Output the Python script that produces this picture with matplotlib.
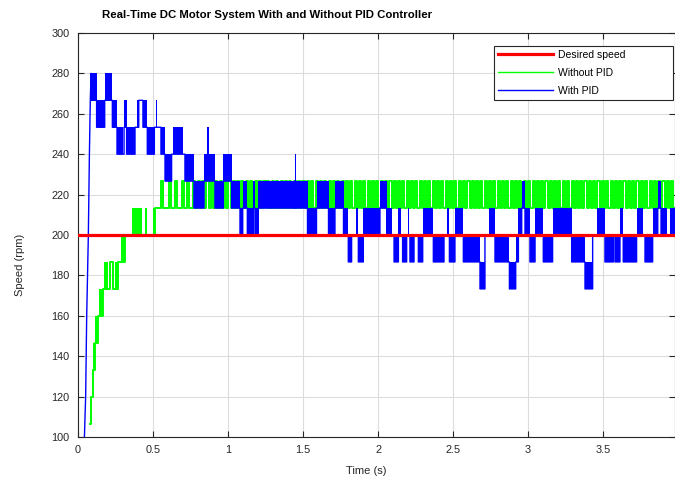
import matplotlib
matplotlib.use("Agg")
import matplotlib.pyplot as plt

# ========================
# DATA
# ========================

desired_speed = 200.0
t_end = 3.98

# blue (with PID): initial rise
blue_ramp_t = [0.040, 0.051, 0.058, 0.069, 0.076, 0.082, 0.087]
blue_ramp_v = [93.33, 120.0, 160.0, 200.0, 240.0, 266.67, 280.0]

# blue: segments (start time, low level, high level); low != high means fast chattering
blue_t = [0.087, 0.124, 0.178, 0.229, 0.260, 0.297, 0.307, 0.324, 0.380, 0.391,
          0.405, 0.433, 0.462, 0.509, 0.522, 0.527, 0.553, 0.580, 0.624, 0.636,
          0.702, 0.713, 0.773, 0.840, 0.862, 0.870, 0.913, 0.969, 1.024, 1.080,
          1.098, 1.129, 1.169, 1.180, 1.202, 1.445, 1.450, 1.530, 1.590, 1.670,
          1.713, 1.770, 1.802, 1.824, 1.853, 1.869, 1.902, 2.013, 2.058, 2.091,
          2.107, 2.136, 2.150, 2.164, 2.191, 2.200, 2.205, 2.213, 2.240, 2.269,
          2.298, 2.369, 2.440, 2.458, 2.476, 2.513, 2.569, 2.680, 2.713, 2.742,
          2.780, 2.876, 2.918, 2.936, 2.958, 2.980, 3.013, 3.047, 3.102, 3.164,
          3.291, 3.380, 3.431, 3.458, 3.513, 3.569, 3.580, 3.613, 3.635, 3.724,
          3.769, 3.780, 3.831, 3.865, 3.887, 3.924, 3.947]
blue_lo = [266.67, 253.33, 266.67, 253.33, 240.00, 240.00, 253.33, 240.00, 253.33, 253.33,
           266.67, 253.33, 240.00, 253.33, 253.33, 253.33, 240.00, 226.67, 240.00, 240.00,
           240.00, 226.67, 213.33, 226.67, 240.00, 226.67, 213.33, 226.67, 213.33, 200.00,
           213.33, 200.00, 213.33, 200.00, 213.33, 226.67, 213.33, 200.00, 213.33, 200.00,
           213.33, 200.00, 186.67, 200.00, 200.00, 186.67, 200.00, 213.33, 200.00, 200.00,
           186.67, 200.00, 200.00, 186.67, 200.00, 200.00, 200.00, 186.67, 200.00, 186.67,
           200.00, 186.67, 200.00, 200.00, 186.67, 200.00, 186.67, 173.33, 200.00, 200.00,
           186.67, 173.33, 186.67, 200.00, 213.33, 200.00, 186.67, 200.00, 186.67, 200.00,
           186.67, 173.33, 200.00, 200.00, 186.67, 200.00, 186.67, 200.00, 186.67, 200.00,
           200.00, 186.67, 200.00, 213.33, 200.00, 200.00, 200.00]
blue_hi = [280.00, 266.67, 280.00, 266.67, 253.33, 240.00, 266.67, 253.33, 253.33, 266.67,
           266.67, 266.67, 253.33, 253.33, 266.67, 253.33, 253.33, 240.00, 240.00, 253.33,
           240.00, 240.00, 226.67, 240.00, 253.33, 240.00, 226.67, 240.00, 226.67, 213.33,
           226.67, 213.33, 226.67, 213.33, 226.67, 240.00, 226.67, 213.33, 226.67, 213.33,
           226.67, 213.33, 200.00, 200.00, 213.33, 200.00, 213.33, 226.67, 213.33, 200.00,
           200.00, 213.33, 200.00, 200.00, 200.00, 213.33, 200.00, 200.00, 200.00, 200.00,
           213.33, 200.00, 200.00, 213.33, 200.00, 213.33, 200.00, 186.67, 200.00, 213.33,
           200.00, 186.67, 200.00, 213.33, 226.67, 213.33, 200.00, 213.33, 200.00, 213.33,
           200.00, 186.67, 200.00, 213.33, 200.00, 200.00, 200.00, 213.33, 200.00, 213.33,
           200.00, 200.00, 213.33, 226.67, 213.33, 200.00, 213.33]

# green (without PID): staircase rise, same segment format
green_t = [0.080, 0.089, 0.091, 0.100, 0.111, 0.133, 0.142, 0.169, 0.173, 0.202,
           0.213, 0.231, 0.247, 0.269, 0.287, 0.313, 0.358, 0.424, 0.447, 0.458,
           0.498, 0.513]
green_lo = [106.67, 120.00, 120.00, 133.33, 146.67, 160.00, 160.00, 173.33, 173.33, 173.33,
            186.67, 173.33, 173.33, 186.67, 186.67, 200.00, 200.00, 200.00, 200.00, 200.00,
            200.00, 213.33]
green_hi = [106.67, 120.00, 133.33, 146.67, 160.00, 160.00, 173.33, 173.33, 186.67, 173.33,
            186.67, 173.33, 186.67, 186.67, 200.00, 200.00, 213.33, 200.00, 213.33, 200.00,
            213.33, 213.33]

# green: pulses between 213.33 and 226.67 after it settles
green_base = 213.33
green_top = 226.67
green_pulse_w = 0.014
green_up = [0.553, 0.609, 0.647, 0.691, 0.724, 0.769, 0.800, 0.829, 0.856, 0.887,
            0.914, 0.945, 0.972, 1.003, 1.031, 1.060, 1.088, 1.120, 1.148, 1.177,
            1.206, 1.236, 1.262, 1.293, 1.321, 1.351, 1.380, 1.409, 1.437, 1.468,
            1.496, 1.526, 1.553, 1.584, 1.612, 1.641, 1.671, 1.699, 1.728, 1.757,
            1.786, 1.815, 1.844, 1.873, 1.901, 1.931, 1.960, 1.988, 2.018, 2.046,
            2.076, 2.104, 2.134, 2.162, 2.191, 2.220, 2.249, 2.278, 2.306, 2.336,
            2.364, 2.394, 2.422, 2.452, 2.480, 2.509, 2.538, 2.567, 2.596, 2.624,
            2.654, 2.682, 2.712, 2.740, 2.769, 2.798, 2.827, 2.856, 2.884, 2.914,
            2.942, 2.972, 3.000, 3.030, 3.058, 3.087, 3.116, 3.145, 3.174, 3.202,
            3.232, 3.260, 3.290, 3.318, 3.348, 3.376, 3.405, 3.434, 3.463, 3.492,
            3.520, 3.550, 3.578, 3.608, 3.636, 3.665, 3.694, 3.723, 3.752, 3.780,
            3.810, 3.838, 3.868, 3.896, 3.925, 3.954]

x_ticks = [0, 0.5, 1, 1.5, 2, 2.5, 3, 3.5]
x_tick_labels = ["0", "0.5", "1", "1.5", "2", "2.5", "3", "3.5"]
y_ticks = [100, 120, 140, 160, 180, 200, 220, 240, 260, 280, 300]


# ========================
# HELPERS
# ========================

def segment_path(starts, lows, end):
    xs, ys = [], []
    for i, t0 in enumerate(starts):
        t1 = starts[i + 1] if i + 1 < len(starts) else end
        xs += [t0, t1]
        ys += [lows[i], lows[i]]
    return xs, ys


def fill_blocks(ax, starts, lows, highs, end, color, z):
    for i, t0 in enumerate(starts):
        t1 = starts[i + 1] if i + 1 < len(starts) else end
        if highs[i] != lows[i]:
            ax.fill_between([t0, t1], [lows[i]] * 2, [highs[i]] * 2,
                            color=color, linewidth=0, zorder=z)


# ========================
# FIGURE
# ========================

plt.rcParams["font.family"] = ["Liberation Sans", "DejaVu Sans"]

fig = plt.figure(figsize=(6.75, 4.82), dpi=100)
ax = fig.add_axes([78 / 675, 1 - 437 / 482, 597 / 675, 404 / 482])

# green
gx, gy = segment_path(green_t, green_lo, green_up[0])
for up in green_up:
    gx += [up, up, up + green_pulse_w, up + green_pulse_w]
    gy += [green_base, green_top, green_top, green_base]
gx.append(t_end)
gy.append(green_base)
ax.plot(gx, gy, color="#00ff00", linewidth=1.4, zorder=2, label="Without PID")
fill_blocks(ax, green_t, green_lo, green_hi, green_up[0], "#00ff00", 2)

# blue
bx, by = segment_path(blue_t, blue_lo, t_end)
bx = blue_ramp_t + bx
by = blue_ramp_v + by
ax.plot(bx, by, color="#0000ff", linewidth=1.0, zorder=3, label="With PID")
fill_blocks(ax, blue_t, blue_lo, blue_hi, t_end, "#0000ff", 3)

# desired speed
ax.plot([0, t_end], [desired_speed, desired_speed], color="#ff0000",
        linewidth=2.3, zorder=4, label="Desired speed")

ax.set_xlim(0, t_end)
ax.set_ylim(100, 300)
ax.set_xticks(x_ticks)
ax.set_xticklabels(x_tick_labels)
ax.set_yticks(y_ticks)
ax.tick_params(direction="in", length=4, width=0.8, colors="#262626",
               labelsize=7.8, top=True, right=True, pad=6)
ax.grid(True, color="#dcdcdc", linewidth=0.8)
ax.set_axisbelow(True)
for s in ax.spines.values():
    s.set_color("#262626")
    s.set_linewidth(0.8)

ax.set_xlabel("Time (s)", fontsize=8, color="#262626")
ax.xaxis.set_label_coords(0.482, -0.072)
ax.set_ylabel("Speed (rpm)", fontsize=8, color="#262626")
ax.yaxis.set_label_coords(-0.088, 0.426)

fig.text(267 / 675, 1 - 15 / 482, "Real-Time DC Motor System With and Without PID Controller",
         fontsize=8.2, fontweight="bold", ha="center", va="center")

handles, labels = ax.get_legend_handles_labels()
order = [2, 0, 1]
leg = ax.legend([handles[i] for i in order], [labels[i] for i in order],
                loc="upper left", bbox_to_anchor=(0.697, 0.81, 0.30, 0.158),
                mode="expand", fontsize=7.5, handlelength=5.3, handletextpad=0.4,
                borderaxespad=0, fancybox=False, framealpha=1, edgecolor="#262626",
                labelspacing=0.75)
leg.get_frame().set_linewidth(0.8)
leg.set_zorder(10)
for line in leg.get_lines()[1:]:
    line.set_linewidth(1.0)

fig.savefig("out.png", dpi=100)
